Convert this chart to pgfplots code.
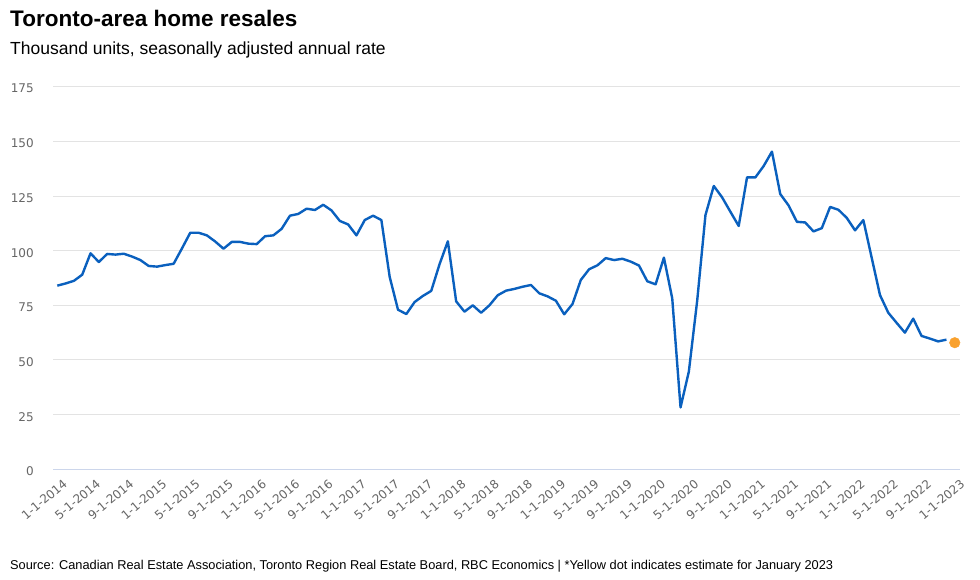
\documentclass[border=0pt]{standalone}
\usepackage{pgfplots}
\pgfplotsset{compat=1.18}
\usepackage{fontspec}
\setmainfont{Liberation Sans}
\newfontfamily\tickfont{DejaVu Sans}
\definecolor{lineblue}{HTML}{0A60BE}
\definecolor{dotorange}{HTML}{F9A12E}
\definecolor{gridgray}{HTML}{E3E3E3}
\definecolor{axisblue}{HTML}{CCD6EB}
\definecolor{labelgray}{HTML}{666666}

\pgfplotstableread{
i v
0 84
1 85
2 86.2
3 89
4 98.8
5 94.8
6 98.5
7 98.2
8 98.6
9 97.3
10 95.7
11 93
12 92.7
13 93.4
14 94
15 101
16 108.2
17 108.2
18 107
19 104.2
20 100.9
21 104
22 104
23 103.2
24 103
25 106.6
26 107
27 110
28 116
29 116.8
30 119.2
31 118.6
32 121
33 118.4
34 113.6
35 112
36 107
37 114
38 116
39 114
40 88
41 73
42 71
43 76.5
44 79.3
45 81.6
46 93.8
47 104.3
48 76.8
49 72.1
50 75
51 71.6
52 75
53 79.6
54 81.7
55 82.5
56 83.5
57 84.3
58 80.5
59 79.1
60 77.1
61 70.9
62 75.6
63 86.6
64 91.5
65 93.3
66 96.6
67 95.7
68 96.3
69 95
70 93.2
71 86
72 84.6
73 96.8
74 78.2
75 28.3
76 44.7
77 77
78 116.3
79 129.6
80 124.4
81 117.8
82 111.3
83 133.5
84 133.5
85 138.7
86 145.3
87 125.9
88 120.7
89 113.2
90 112.9
91 108.8
92 110.3
93 120
94 118.7
95 115
96 109.3
97 114
98 96.8
99 79.7
100 71.6
101 67
102 62.5
103 68.9
104 61
105 59.8
106 58.5
107 59.3
}\resales

\begin{document}
\begin{tikzpicture}[x=1pt,y=1pt]
\path[use as bounding box] (0,0) rectangle (980,580);
\node[anchor=base west, inner sep=0, font=\fontsize{22.5}{26}\selectfont\bfseries] at (10,553) {Toronto-area home resales};
\node[anchor=base west, inner sep=0, font=\fontsize{17.5}{21}\selectfont] at (10,525) {Thousand units, seasonally adjusted annual rate};
\node[anchor=base west, inner sep=0, font=\fontsize{12.8}{15}\selectfont] at (10,10.5) {Source: Canadian Real Estate Association, Toronto Region Real Estate Board, RBC Economics | *Yellow dot indicates estimate for January 2023};
\begin{axis}[
  at={(53.3pt,110.7pt)}, anchor=south west, scale only axis,
  width=906.7pt, height=382.6pt,
  xmin=-0.48, xmax=108.63, ymin=0, ymax=175,
  axis line style={draw=none},
  major tick length=0pt,
  ymajorgrids, grid style={gridgray, line width=1pt},
  ytick={25,50,...,175},
  extra y ticks={0}, extra y tick labels={0},
  extra y tick style={grid style={axisblue, line width=1pt}},
  /pgf/number format/assume math mode=true,
  yticklabel style={font=\tickfont\fontsize{12}{14}\selectfont, text=labelgray, anchor=east, xshift=-16pt, yshift=-2pt},
  xtick={0,4,...,108},
  xticklabels={1-1-2014,5-1-2014,9-1-2014,1-1-2015,5-1-2015,9-1-2015,1-1-2016,5-1-2016,9-1-2016,1-1-2017,5-1-2017,9-1-2017,1-1-2018,5-1-2018,9-1-2018,1-1-2019,5-1-2019,9-1-2019,1-1-2020,5-1-2020,9-1-2020,1-1-2021,5-1-2021,9-1-2021,1-1-2022,5-1-2022,9-1-2022,1-1-2023},
  xticklabel style={font=\tickfont\fontsize{12}{14}\selectfont, text=labelgray, rotate=40, anchor=north east, yshift=-9pt, xshift=-1pt, inner sep=1pt},
  clip=false,
]
\addplot[lineblue, line width=2.4pt, line join=round, mark=none] table[x=i, y=v] {\resales};
\addplot[only marks, mark=*, mark size=5.3pt, mark options={draw=dotorange, fill=dotorange}] coordinates {(108,57.9)};
\end{axis}
\end{tikzpicture}
\end{document}
